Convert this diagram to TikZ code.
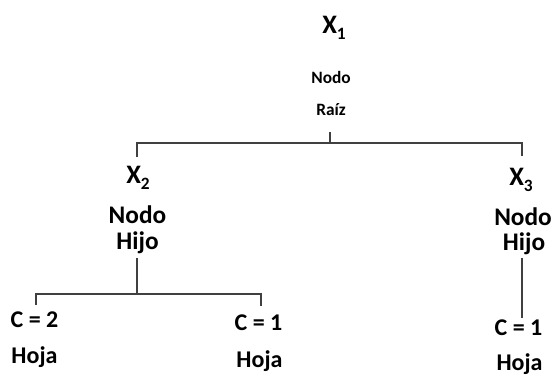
\documentclass[tikz,border=0pt]{standalone}
\usepackage{fontspec}
\setmainfont{Carlito}
% lowered index digit for the variable names
\newcommand{\varidx}[1]{\raisebox{-4.5pt}{\fontsize{13}{13}\selectfont #1}}
\begin{document}
\begin{tikzpicture}[x=0.75pt,y=-0.75pt,
  every node/.style={inner sep=0pt, anchor=base, font=\bfseries},
  varlabel/.style={font=\bfseries\fontsize{20}{20}\selectfont},
  rootlabel/.style={font=\bfseries\fontsize{13}{13}\selectfont},
  childlabel/.style={font=\bfseries\fontsize{19}{19}\selectfont},
  leaflabel/.style={font=\bfseries\fontsize{18}{18}\selectfont},
  branch/.style={draw=black!75, line width=0.8pt}]
\useasboundingbox (0,0) rectangle (552,376);

% root node
\node[varlabel]  (x1)    at (334,33)  {X\varidx{1}};
\node[rootlabel] (nodo1) at (331,83)  {Nodo};
\node[rootlabel] (raiz)  at (331,115) {Raíz};

% child nodes
\node[varlabel]   (x2)    at (138,183) {X\varidx{2}};
\node[childlabel] (nodo2) at (137.5,223) {Nodo};
\node[childlabel] (hijo2) at (137.5,249) {Hijo};

\node[varlabel]   (x3)    at (521,185) {X\varidx{3}};
\node[childlabel] (nodo3) at (523,225) {Nodo};
\node[childlabel] (hijo3) at (524,250) {Hijo};

% leaves
\node[leaflabel] (c2)    at (34.5,327) {C = 2};
\node[leaflabel] (hoja1) at (34.5,363) {Hoja};
\node[leaflabel] (c1a)   at (258.5,330) {C = 1};
\node[leaflabel] (hoja2) at (259.5,367) {Hoja};
\node[leaflabel] (c1b)   at (518.5,335) {C = 1};
\node[leaflabel] (hoja3) at (519.5,370) {Hoja};

% junction points of the branches
\coordinate (rootTop) at (330,132);
\coordinate (rootBar) at (330,143);
\coordinate (leftEnd) at (137,157);
\coordinate (rightEnd) at (522,156);
\coordinate (hijoTop) at (137,258);
\coordinate (hijoBar) at (137,294);
\coordinate (leafL) at (36,305);
\coordinate (leafR) at (261,306);
\coordinate (hijo3Top) at (522,258);
\coordinate (leaf3) at (522,318);

% branches
\draw[branch] (rootTop) -- (rootBar);
\draw[branch] (leftEnd) |- (rootBar) -| (rightEnd);
\draw[branch] (hijoTop) -- (hijoBar);
\draw[branch] (leafL) |- (hijoBar) -| (leafR);
\draw[branch] (hijo3Top) -- (leaf3);
\end{tikzpicture}
\end{document}
